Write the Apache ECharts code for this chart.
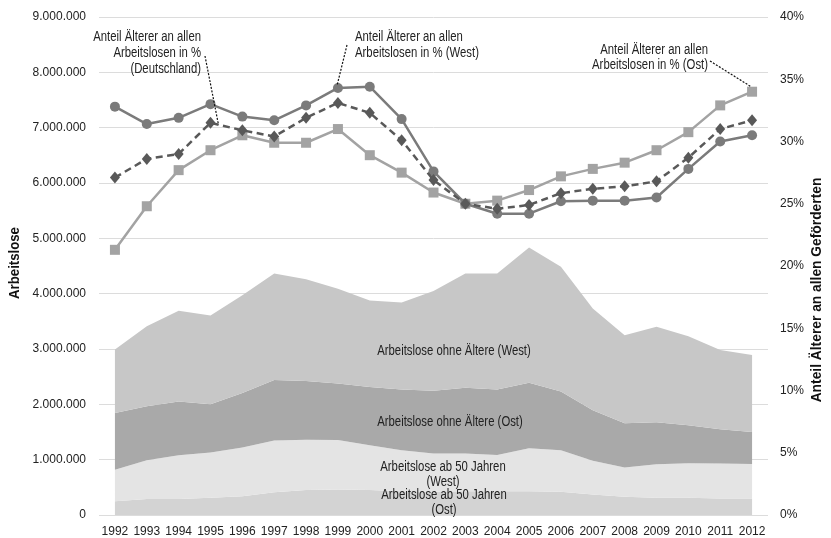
<!DOCTYPE html>
<html>
<head>
<meta charset="utf-8">
<script src="https://cdn.jsdelivr.net/npm/echarts@6/dist/echarts.min.js"></script>
<style>html,body{margin:0;padding:0;background:#fff}#c{width:831px;height:538px}</style>
</head>
<body>
<div id="c"></div>
<script>
const years = ['1992','1993','1994','1995','1996','1997','1998','1999','2000','2001','2002','2003','2004','2005','2006','2007','2008','2009','2010','2011','2012'];
// Arbeitslose in Millionen
const ost50  = [0.25,0.29,0.29,0.31,0.34,0.41,0.45,0.46,0.45,0.43,0.42,0.43,0.43,0.43,0.42,0.37,0.33,0.31,0.31,0.30,0.30];
const west50 = [0.57,0.70,0.79,0.82,0.88,0.935,0.91,0.895,0.81,0.74,0.69,0.68,0.655,0.775,0.75,0.61,0.53,0.605,0.625,0.63,0.62];
const ostOhne = [1.025,0.975,0.97,0.87,0.985,1.095,1.06,1.02,1.055,1.10,1.135,1.19,1.185,1.185,1.06,0.915,0.80,0.76,0.685,0.62,0.58];
const westOhne = [1.145,1.445,1.64,1.605,1.765,1.925,1.84,1.715,1.56,1.57,1.805,2.065,2.095,2.445,2.255,1.835,1.59,1.725,1.61,1.43,1.39];
// Anteil Älterer in %
const anteilWest = [32.8,31.4,31.9,33.0,32.0,31.7,32.9,34.3,34.4,31.8,27.6,25.0,24.2,24.2,25.2,25.25,25.25,25.5,27.8,30.0,30.5];
const anteilDE   = [27.1,28.6,29.0,31.5,30.9,30.4,31.9,33.1,32.3,30.1,26.9,25.0,24.6,24.9,25.85,26.2,26.4,26.8,28.7,31.0,31.7];
const anteilOst  = [21.3,24.8,27.7,29.3,30.5,29.9,29.9,31.0,28.9,27.5,25.9,25.0,25.25,26.1,27.2,27.8,28.3,29.3,30.75,32.9,34.0];

const FONT = '"Liberation Sans Narrow","Liberation Sans",Arial,sans-serif';
const chart = echarts.init(document.getElementById('c'));
const mil = a => a.map(v => Math.round(v * 1e6));
function fmtNum(v){ return String(v).replace(/\B(?=(\d{3})+(?!\d))/g,'.'); }

function area(name, data, color){
  return {name, type:'line', stack:'a', data: mil(data), yAxisIndex:0, showSymbol:false, symbol:'none',
    lineStyle:{width:0}, areaStyle:{color, opacity:1}, itemStyle:{color}, silent:true, z:1};
}
const opt = {
  animation:false,
  textStyle:{fontFamily:FONT},
  grid:{left:99, right:63, top:17, bottom:23, outerBoundsMode:'none', containLabel:false},
  xAxis:{type:'category', data:years, boundaryGap:true,
    axisTick:{show:false}, axisLine:{show:false},
    axisLabel:{color:'#222', fontSize:12, fontFamily:FONT, margin:11, interval:0}},
  yAxis:[
    {type:'value', min:0, max:9e6, interval:1e6,
      axisLabel:{color:'#222', fontSize:12, fontFamily:FONT, margin:13, formatter:v=>fmtNum(v)},
      splitLine:{lineStyle:{color:'#dcdcdc', width:1}}, axisLine:{show:false}, axisTick:{show:false}},
    {type:'value', min:0, max:40, interval:5,
      axisLabel:{color:'#222', fontSize:12, fontFamily:FONT, margin:12, formatter:'{value}%'},
      splitLine:{show:false}, axisLine:{show:false}, axisTick:{show:false}}
  ],
  series:[
    area('Arbeitslose ab 50 Jahren (Ost)', ost50, '#d3d3d3'),
    area('Arbeitslose ab 50 Jahren (West)', west50, '#e4e4e4'),
    area('Arbeitslose ohne Ältere (Ost)', ostOhne, '#a9a9a9'),
    area('Arbeitslose ohne Ältere (West)', westOhne, '#c7c7c7'),
    {name:'Anteil West', type:'line', yAxisIndex:1, data:anteilWest, symbol:'circle', symbolSize:10,
      lineStyle:{color:'#7b7b7b', width:2.5}, itemStyle:{color:'#7b7b7b'}, z:5},
    {name:'Anteil Ost', type:'line', yAxisIndex:1, data:anteilOst, symbol:'rect', symbolSize:10,
      lineStyle:{color:'#a3a3a3', width:2.5}, itemStyle:{color:'#a3a3a3'}, z:4},
    {name:'Anteil Deutschland', type:'line', yAxisIndex:1, data:anteilDE, symbol:'diamond', symbolSize:[10,12],
      lineStyle:{color:'#595959', width:2.5, type:[7,4.5]}, itemStyle:{color:'#595959'}, z:6}
  ]
};
chart.setOption(opt);

function px(i, v){ return chart.convertToPixel({xAxisIndex:0, yAxisIndex:1}, [i, v]); }
const SX = 0.81;
const tstyle = (s, extra) => Object.assign({text:s, fill:'#222', font:'14px '+FONT}, extra||{});
const pDE = px(3, anteilDE[3]);
const pW = px(7, anteilWest[7]);
const pO = px(20, anteilOst[20]);
const T = (x, y, style, extra) => Object.assign({type:'text', x, y, z:100, scaleX:SX, style}, extra||{});
const g = [
  {type:'text', x:15, y:263, z:100, rotation:Math.PI/2, scaleX:0.88, style:{text:'Arbeitslose', fill:'#111', font:'bold 15px '+FONT, align:'center', verticalAlign:'middle'}},
  {type:'text', x:817, y:290, z:100, rotation:Math.PI/2, scaleX:0.92, style:{text:'Anteil Älterer an allen Geförderten', fill:'#111', font:'bold 15px '+FONT, align:'center', verticalAlign:'middle'}},
  T(201, 53, tstyle('Anteil Älterer an allen\nArbeitslosen in %\n(Deutschland)', {align:'right', verticalAlign:'middle', lineHeight:16})),
  T(355, 45, tstyle('Anteil Älterer an allen\nArbeitslosen in % (West)', {align:'left', verticalAlign:'middle', lineHeight:16.5})),
  T(708, 58, tstyle('Anteil Älterer an allen\nArbeitslosen in % (Ost)', {align:'right', verticalAlign:'middle', lineHeight:15})),
  {type:'line', z:100, shape:{x1:205, y1:56, x2:pDE[0]+8, y2:pDE[1]+2}, style:{stroke:'#111', lineWidth:1.2, lineDash:[2,1.5]}},
  {type:'line', z:100, shape:{x1:347, y1:45, x2:pW[0]-1, y2:pW[1]-2}, style:{stroke:'#111', lineWidth:1.2, lineDash:[2,1.5]}},
  {type:'line', z:100, shape:{x1:710, y1:61, x2:pO[0]-1, y2:pO[1]-5}, style:{stroke:'#111', lineWidth:1.2, lineDash:[2,1.5]}},
  T(454, 351, tstyle('Arbeitslose ohne Ältere (West)', {align:'center', verticalAlign:'middle'})),
  T(450, 422, tstyle('Arbeitslose ohne Ältere (Ost)', {align:'center', verticalAlign:'middle'})),
  T(443, 475, tstyle('Arbeitslose ab 50 Jahren\n(West)', {align:'center', verticalAlign:'middle', lineHeight:15})),
  T(444, 503, tstyle('Arbeitslose ab 50 Jahren\n(Ost)', {align:'center', verticalAlign:'middle', lineHeight:15}))
];
chart.setOption({graphic:g});
</script>
</body>
</html>
